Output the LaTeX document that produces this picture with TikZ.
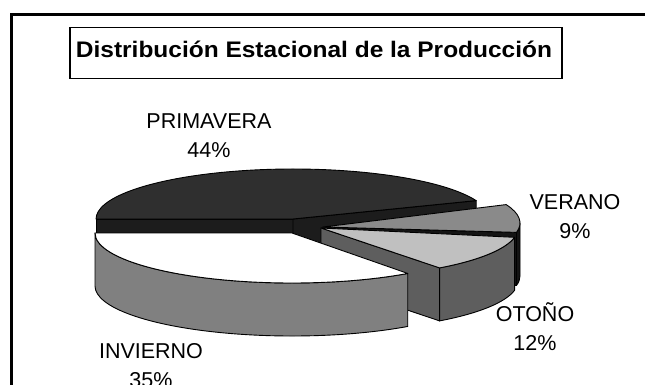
\documentclass[tikz,border=0pt]{standalone}
\usepackage{fontspec}
\setmainfont{Liberation Sans}
\definecolor{Ptop}{HTML}{2F2F2F}
\definecolor{Pface}{HTML}{1C1C1C}
\definecolor{Vtop}{HTML}{8A8A8A}
\definecolor{Vface}{HTML}{141414}
\definecolor{Otop}{HTML}{C0C0C0}
\definecolor{Oface}{HTML}{5E5E5E}
\definecolor{Itop}{HTML}{FFFFFF}
\definecolor{Iside}{HTML}{808080}
\begin{document}
\begin{tikzpicture}[x=1pt,y=-1pt,
  pieedge/.style={draw=black,line width=0.9pt,line join=round},
  ell/.style={x radius=197,y radius=50},
  lbl/.style={font=\fontsize{21.5}{29}\selectfont,align=center,inner sep=0pt,anchor=base}]
\useasboundingbox (0,0) rectangle (645,385);
\clip (0,0) rectangle (645,385);
\fill[white] (0,0) rectangle (645,385);
% outer frame
\draw[line width=3pt] (11.5,15) rectangle (720,460);
% title
\node[draw,line width=1.2pt,minimum width=492pt,minimum height=51pt,inner sep=0pt] (titlebox) at (316,52.8) {};
\node[anchor=base,inner sep=0pt] (title) at (314,57.5) {\fontsize{22.5}{26}\selectfont\bfseries\scalebox{1.088}[1]{Distribución Estacional de la Producción}};
% PRIMAVERA
\begin{scope}[shift={(293,219)},yscale=-1]
  \filldraw[pieedge,fill=Pface] (0,0) -- (-197,0) -- (-197,-53) -- (0,-53) -- cycle;
  \filldraw[pieedge,fill=Pface] (0,0) -- (183.2,18.4) -- (183.2,-34.6) -- (0,-53) -- cycle;
  \filldraw[pieedge,fill=Ptop] (0,0) -- (183.2,18.4) arc[start angle=21.6,end angle=180,ell] -- cycle;
\end{scope}
% VERANO
\begin{scope}[shift={(323,223)},yscale=-1]
  \filldraw[pieedge,fill=Vface] (0,-4) -- (193.5,-9.37) -- (193.5,-62.37) -- (0,-57) -- cycle;
  \filldraw[pieedge,fill=Vface] (193.5,-9.37) arc[start angle=-10.8,end angle=0,ell] -- (197,-53) arc[start angle=0,end angle=-10.8,ell] -- cycle;
  \filldraw[pieedge,fill=Vtop] (0,-4) -- (193.5,-9.37) arc[start angle=-10.8,end angle=21.6,ell] -- cycle;
\end{scope}
% OTONO
\begin{scope}[shift={(321,228)},yscale=-1]
  \filldraw[pieedge,fill=Oface] (0,0) -- (118.6,-39.9) -- (118.6,-92.9) -- (0,-53) -- cycle;
  \filldraw[pieedge,fill=Oface] (118.6,-39.9) arc[start angle=-53,end angle=-10.8,ell] -- ++(0,-53) arc[start angle=-10.8,end angle=-53,ell] -- cycle;
  \filldraw[pieedge,fill=Otop] (0,0) -- (118.6,-39.9) arc[start angle=-53,end angle=-10.8,ell] -- cycle;
\end{scope}
% INVIERNO
\begin{scope}[shift={(292,233)},yscale=-1]
  \filldraw[pieedge,fill=Iside] (-197,0) arc[start angle=180,end angle=306,ell] -- ++(0,-53) arc[start angle=306,end angle=180,ell] -- cycle;
  \filldraw[pieedge,fill=Itop] (0,0) -- (-197,0) arc[start angle=180,end angle=306,ell] -- cycle;
\end{scope}
% labels (anchor=base is the baseline of the last line)
\node[lbl] (prim) at (209,157.3) {PRIMAVERA\\44\%};
\node[lbl] (ver) at (575,238) {VERANO\\9\%};
\node[lbl] (oto) at (535,350) {OTOÑO\\12\%};
\node[lbl] (inv) at (151,387.3) {INVIERNO\\35\%};
\end{tikzpicture}
\end{document}
